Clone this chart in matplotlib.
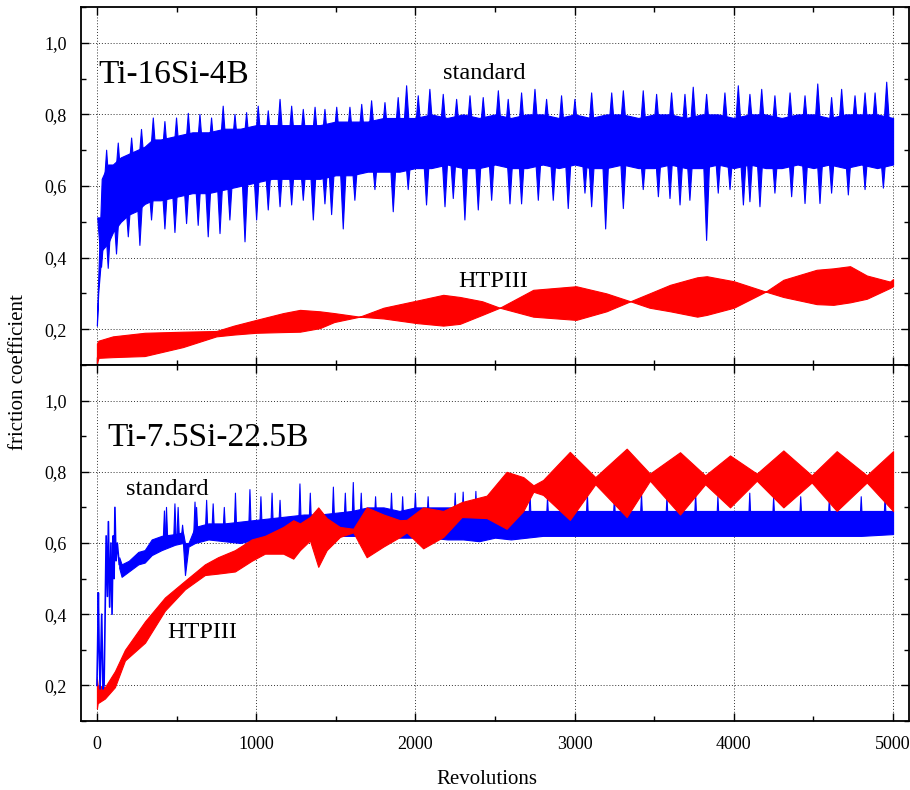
import numpy as np
import matplotlib
matplotlib.use("Agg")
import matplotlib.pyplot as plt
from matplotlib.collections import PolyCollection
from matplotlib.ticker import MultipleLocator, FuncFormatter

plt.rcParams["font.family"] = ["Liberation Serif", "DejaVu Serif"]

# ---- Ti-16Si-4B, standard: dense core of the trace + individual peaks/dips ----
top_std_rev = [0, 8, 30, 70, 100, 150, 200, 250, 300, 350, 400, 500, 600, 700, 800, 900,
               1000, 1100, 1200, 1300, 1400, 1500, 1600, 1700, 1800, 1900, 2000, 2100, 2200,
               2300, 2400, 2500, 2600, 2700, 2800, 2900, 3000, 3100, 3200, 3300, 3400, 3500,
               3600, 3700, 3800, 3900, 4000, 4100, 4200, 4300, 4400, 4500, 4600, 4700, 4800,
               4900, 5000]
top_std_hi = [0.22, 0.34, 0.62, 0.66, 0.66, 0.68, 0.69, 0.70, 0.71, 0.73, 0.73, 0.74, 0.75, 0.75,
              0.76, 0.76, 0.77, 0.77, 0.77, 0.77, 0.77, 0.78, 0.78, 0.78, 0.79, 0.79, 0.79, 0.80,
              0.79, 0.80, 0.79, 0.80, 0.79, 0.80, 0.80, 0.79, 0.80, 0.79, 0.80, 0.80, 0.79, 0.80,
              0.80, 0.79, 0.80, 0.80, 0.79, 0.80, 0.80, 0.79, 0.80, 0.80, 0.79, 0.80, 0.80, 0.80,
              0.79]
top_std_lo = [0.21, 0.30, 0.42, 0.44, 0.47, 0.50, 0.52, 0.53, 0.55, 0.56, 0.56, 0.57, 0.58, 0.58,
              0.59, 0.60, 0.61, 0.62, 0.62, 0.62, 0.62, 0.63, 0.63, 0.64, 0.64, 0.64, 0.65, 0.65,
              0.66, 0.65, 0.65, 0.66, 0.65, 0.65, 0.66, 0.65, 0.66, 0.65, 0.65, 0.66, 0.65, 0.65,
              0.66, 0.65, 0.65, 0.66, 0.65, 0.66, 0.65, 0.65, 0.66, 0.65, 0.66, 0.65, 0.66, 0.65,
              0.66]
top_std_peak_rev = [61, 134, 218, 280, 354, 427, 500, 574, 647, 720, 793, 867, 940, 1013, 1076,
                    1150, 1223, 1296, 1370, 1432, 1506, 1589, 1663, 1725, 1809, 1892, 1945, 2018,
                    2091, 2175, 2259, 2343, 2426, 2521, 2583, 2667, 2751, 2824, 2918, 3002, 3107,
                    3233, 3306, 3431, 3515, 3609, 3693, 3745, 3829, 3944, 4028, 4101, 4175, 4258,
                    4353, 4447, 4527, 4614, 4677, 4761, 4824, 4887, 4960]
top_std_peak_val = [0.70, 0.72, 0.734, 0.758, 0.79, 0.78, 0.79, 0.803, 0.80, 0.79, 0.823, 0.80,
                    0.805, 0.823, 0.81, 0.842, 0.823, 0.814, 0.82, 0.814, 0.82, 0.82, 0.828, 0.838,
                    0.833, 0.847, 0.88, 0.852, 0.87, 0.856, 0.842, 0.852, 0.847, 0.866, 0.842, 0.86,
                    0.87, 0.842, 0.852, 0.842, 0.86, 0.86, 0.866, 0.866, 0.856, 0.86, 0.856, 0.876,
                    0.856, 0.86, 0.88, 0.856, 0.87, 0.852, 0.86, 0.852, 0.885, 0.847, 0.87, 0.852,
                    0.86, 0.86, 0.89]
top_std_dip_rev = [29, 71, 123, 197, 270, 343, 427, 490, 563, 636, 699, 773, 835, 930, 1003,
                   1076, 1150, 1223, 1296, 1359, 1432, 1474, 1547, 1620, 1746, 1861, 1955, 2070,
                   2186, 2238, 2311, 2395, 2479, 2594, 2667, 2772, 2866, 2960, 3065, 3107, 3195,
                   3306, 3431, 3526, 3599, 3662, 3724, 3829, 3902, 3976, 4060, 4101, 4164, 4258,
                   4363, 4447, 4541, 4614, 4719, 4824, 4939]
top_std_dip_val = [0.373, 0.37, 0.41, 0.458, 0.434, 0.505, 0.48, 0.47, 0.495, 0.49, 0.458, 0.467,
                   0.505, 0.444, 0.505, 0.533, 0.542, 0.547, 0.56, 0.505, 0.55, 0.52, 0.48, 0.56,
                   0.59, 0.528, 0.59, 0.547, 0.542, 0.565, 0.505, 0.533, 0.56, 0.55, 0.55, 0.56,
                   0.56, 0.537, 0.58, 0.542, 0.48, 0.537, 0.59, 0.57, 0.565, 0.547, 0.56, 0.448,
                   0.58, 0.59, 0.547, 0.556, 0.542, 0.58, 0.57, 0.551, 0.551, 0.58, 0.575, 0.59,
                   0.594]

# ---- Ti-16Si-4B, HTPIII ----
top_htp_rev = [0, 10, 100, 300, 540, 750, 860, 1000, 1170, 1275, 1400, 1490, 1650, 1800, 2010,
               2175, 2280, 2420, 2530, 2740, 3010, 3200, 3350, 3470, 3600, 3770, 3830, 4000,
               4200, 4311, 4520, 4625, 4730, 4835, 4980, 5000]
top_htp_hi = [0.16, 0.168, 0.18, 0.19, 0.193, 0.195, 0.21, 0.226, 0.245, 0.254, 0.25, 0.245,
              0.235, 0.26, 0.28, 0.296, 0.29, 0.278, 0.26, 0.31, 0.32, 0.30, 0.278, 0.30, 0.324,
              0.345, 0.348, 0.334, 0.305, 0.338, 0.366, 0.37, 0.376, 0.35, 0.333, 0.34]
top_htp_lo = [0.105, 0.12, 0.122, 0.125, 0.15, 0.18, 0.185, 0.19, 0.192, 0.193, 0.203, 0.22,
              0.235, 0.23, 0.217, 0.21, 0.215, 0.24, 0.26, 0.235, 0.226, 0.25, 0.278, 0.26, 0.25,
              0.235, 0.24, 0.26, 0.305, 0.29, 0.27, 0.268, 0.275, 0.285, 0.315, 0.32]

# ---- Ti-7.5Si-22.5B, standard ----
bot_std_early_rev = [0, 4, 9, 14, 20, 30, 38, 45, 50, 58, 66, 72, 80, 88, 95, 102, 108, 113,
                     120, 128, 140]
bot_std_early_val = [0.20, 0.30, 0.46, 0.30, 0.19, 0.40, 0.19, 0.20, 0.35, 0.62, 0.45, 0.66,
                     0.42, 0.60, 0.40, 0.62, 0.50, 0.70, 0.55, 0.60, 0.54]
bot_std_rev = [140, 155, 200, 260, 300, 344, 406, 490, 540, 553, 575, 616, 700, 800, 900, 1000,
               1100, 1200, 1300, 1400, 1500, 1600, 1700, 1800, 1900, 2000, 2100, 2200, 2300,
               2400, 2500, 2600, 2700, 2800, 2900, 3000, 3200, 3400, 3600, 3800, 4000, 4200,
               4400, 4600, 4800, 5000]
bot_std_hi = [0.56, 0.54, 0.55, 0.575, 0.58, 0.61, 0.62, 0.625, 0.63, 0.60, 0.60, 0.645, 0.655,
              0.655, 0.66, 0.665, 0.67, 0.675, 0.68, 0.68, 0.685, 0.69, 0.70, 0.70, 0.69, 0.70,
              0.70, 0.70, 0.70, 0.70, 0.695, 0.69, 0.69, 0.69, 0.69, 0.69, 0.69, 0.69, 0.69,
              0.69, 0.69, 0.69, 0.69, 0.69, 0.69, 0.69]
bot_std_lo = [0.53, 0.505, 0.52, 0.54, 0.545, 0.566, 0.58, 0.595, 0.60, 0.51, 0.59, 0.60, 0.61,
              0.605, 0.60, 0.61, 0.615, 0.62, 0.62, 0.62, 0.62, 0.62, 0.62, 0.62, 0.615, 0.615,
              0.615, 0.61, 0.61, 0.605, 0.615, 0.61, 0.615, 0.62, 0.62, 0.62, 0.62, 0.62, 0.62,
              0.62, 0.62, 0.62, 0.62, 0.62, 0.62, 0.625]
bot_std_peak_rev = [424, 437, 490, 510, 538, 616, 626, 689, 730, 800, 870, 961, 1030, 1100, 1150,
                    1275, 1340, 1485, 1560, 1610, 1660, 1750, 1850, 1920, 2000, 2080, 2250, 2300,
                    2380, 2500, 2620, 2720, 2830, 3080, 3250, 3420, 3580, 3760, 3900, 4100, 4250,
                    4420, 4600, 4800, 4950]
bot_std_peak_val = [0.69, 0.70, 0.71, 0.70, 0.65, 0.715, 0.70, 0.72, 0.71, 0.70, 0.74, 0.75, 0.73,
                    0.74, 0.72, 0.766, 0.74, 0.757, 0.74, 0.77, 0.74, 0.73, 0.74, 0.73, 0.74, 0.73,
                    0.74, 0.743, 0.745, 0.74, 0.745, 0.74, 0.73, 0.74, 0.73, 0.74, 0.73, 0.74, 0.73,
                    0.74, 0.73, 0.73, 0.73, 0.73, 0.73]

# ---- Ti-7.5Si-22.5B, HTPIII ----
bot_htp_rev = [0, 5, 50, 113, 176, 302, 427, 553, 678, 760, 867, 972, 1055, 1170, 1233, 1275,
               1338, 1390, 1443, 1526, 1610, 1694, 1799, 1903, 1945, 2049, 2175, 2291, 2448,
               2573, 2678, 2741, 2802, 2970, 3130, 3327, 3473, 3662, 3820, 3976, 4144, 4311,
               4489, 4646, 4835, 5000]
bot_htp_hi = [0.22, 0.20, 0.195, 0.24, 0.30, 0.38, 0.447, 0.494, 0.54, 0.56, 0.58, 0.61, 0.62,
              0.645, 0.664, 0.655, 0.673, 0.70, 0.67, 0.645, 0.64, 0.70, 0.68, 0.664, 0.665, 0.70,
              0.69, 0.715, 0.733, 0.80, 0.785, 0.762, 0.777, 0.856, 0.785, 0.865, 0.795, 0.855,
              0.79, 0.846, 0.795, 0.86, 0.79, 0.858, 0.79, 0.858]
bot_htp_lo = [0.135, 0.15, 0.163, 0.195, 0.27, 0.32, 0.41, 0.47, 0.51, 0.514, 0.52, 0.55, 0.57,
              0.57, 0.556, 0.58, 0.607, 0.533, 0.58, 0.617, 0.63, 0.56, 0.59, 0.617, 0.63, 0.585,
              0.617, 0.673, 0.67, 0.64, 0.69, 0.744, 0.735, 0.665, 0.765, 0.673, 0.775, 0.68,
              0.765, 0.70, 0.775, 0.70, 0.77, 0.69, 0.77, 0.69]

y_ticks = [0.2, 0.4, 0.6, 0.8, 1.0]
x_ticks = [0, 1000, 2000, 3000, 4000, 5000]

BLUE = "#0000ff"
RED = "#ff0000"


def draw_band(ax, rev, hi, lo, color):
    ax.fill_between(rev, lo, hi, color=color, linewidth=0.8, edgecolor=color)


def draw_spikes(ax, rev, val, env_rev, env_hi, env_lo, color, half_width=18):
    # each spike is a narrow triangle from its tip back to the middle of the band
    mid = (np.interp(rev, env_rev, env_hi) + np.interp(rev, env_rev, env_lo)) / 2
    tris = [[(r - half_width, m), (r, v), (r + half_width, m)] for r, v, m in zip(rev, val, mid)]
    ax.add_collection(PolyCollection(tris, facecolors=color, edgecolors=color, linewidths=0.8))


def style_axis(ax, show_xlabels):
    ax.set_xlim(-100, 5100)
    ax.set_ylim(0.1, 1.1)
    ax.set_xticks(x_ticks)
    ax.xaxis.set_minor_locator(MultipleLocator(500))
    ax.set_yticks(y_ticks)
    ax.yaxis.set_minor_locator(MultipleLocator(0.1))
    ax.yaxis.set_major_formatter(FuncFormatter(lambda v, p: f"{v:.1f}".replace(".", ",")))
    ax.tick_params(which="both", direction="in", top=True, right=True, labelsize=13)
    ax.tick_params(which="major", length=6, width=1.0)
    ax.tick_params(which="minor", length=3.5, width=1.0)
    ax.tick_params(axis="y", pad=10)
    ax.tick_params(axis="x", pad=11, labelbottom=show_xlabels)
    ax.grid(True, which="major", color="#333333", linestyle=(0, (1, 2)), linewidth=0.7)
    ax.set_axisbelow(True)
    for sp in ax.spines.values():
        sp.set_linewidth(1.3)


fig = plt.figure(figsize=(9.1, 7.9), dpi=100)
ax_top = fig.add_axes([81 / 910, 1 - 365 / 790, 828 / 910, 358 / 790])
ax_bot = fig.add_axes([81 / 910, 1 - 721 / 790, 828 / 910, 356 / 790])

# top panel
draw_band(ax_top, top_std_rev, top_std_hi, top_std_lo, BLUE)
draw_spikes(ax_top, top_std_peak_rev, top_std_peak_val, top_std_rev, top_std_hi, top_std_lo, BLUE,
            half_width=24)
draw_spikes(ax_top, top_std_dip_rev, top_std_dip_val, top_std_rev, top_std_hi, top_std_lo, BLUE,
            half_width=24)
draw_band(ax_top, top_htp_rev, top_htp_hi, top_htp_lo, RED)
ax_top.text(6, 0.887, "Ti-16Si-4B", fontsize=24, ha="left", va="baseline")
ax_top.text(2173, 0.899, "standard", fontsize=17.5, ha="left", va="baseline")
ax_top.text(2268, 0.318, "HTPIII", fontsize=17.5, ha="left", va="baseline")
style_axis(ax_top, False)

# bottom panel
ax_bot.plot(bot_std_early_rev, bot_std_early_val, color=BLUE, linewidth=1.2)
draw_band(ax_bot, bot_std_rev, bot_std_hi, bot_std_lo, BLUE)
draw_spikes(ax_bot, bot_std_peak_rev, bot_std_peak_val, bot_std_rev, bot_std_hi, bot_std_lo, BLUE,
            half_width=8)
draw_band(ax_bot, bot_htp_rev, bot_htp_hi, bot_htp_lo, RED)
ax_bot.text(63, 0.872, "Ti-7.5Si-22.5B", fontsize=24, ha="left", va="baseline")
ax_bot.text(182, 0.734, "standard", fontsize=17.5, ha="left", va="baseline")
ax_bot.text(440, 0.334, "HTPIII", fontsize=17.5, ha="left", va="baseline")
style_axis(ax_bot, True)

fig.text(487 / 910, 1 - 780 / 790, "Revolutions", fontsize=15, ha="center", va="center")
fig.text(19 / 910, 1 - 372 / 790, "friction coefficient", fontsize=15, rotation=90,
         ha="center", va="center")

fig.savefig("out.png", dpi=100)
